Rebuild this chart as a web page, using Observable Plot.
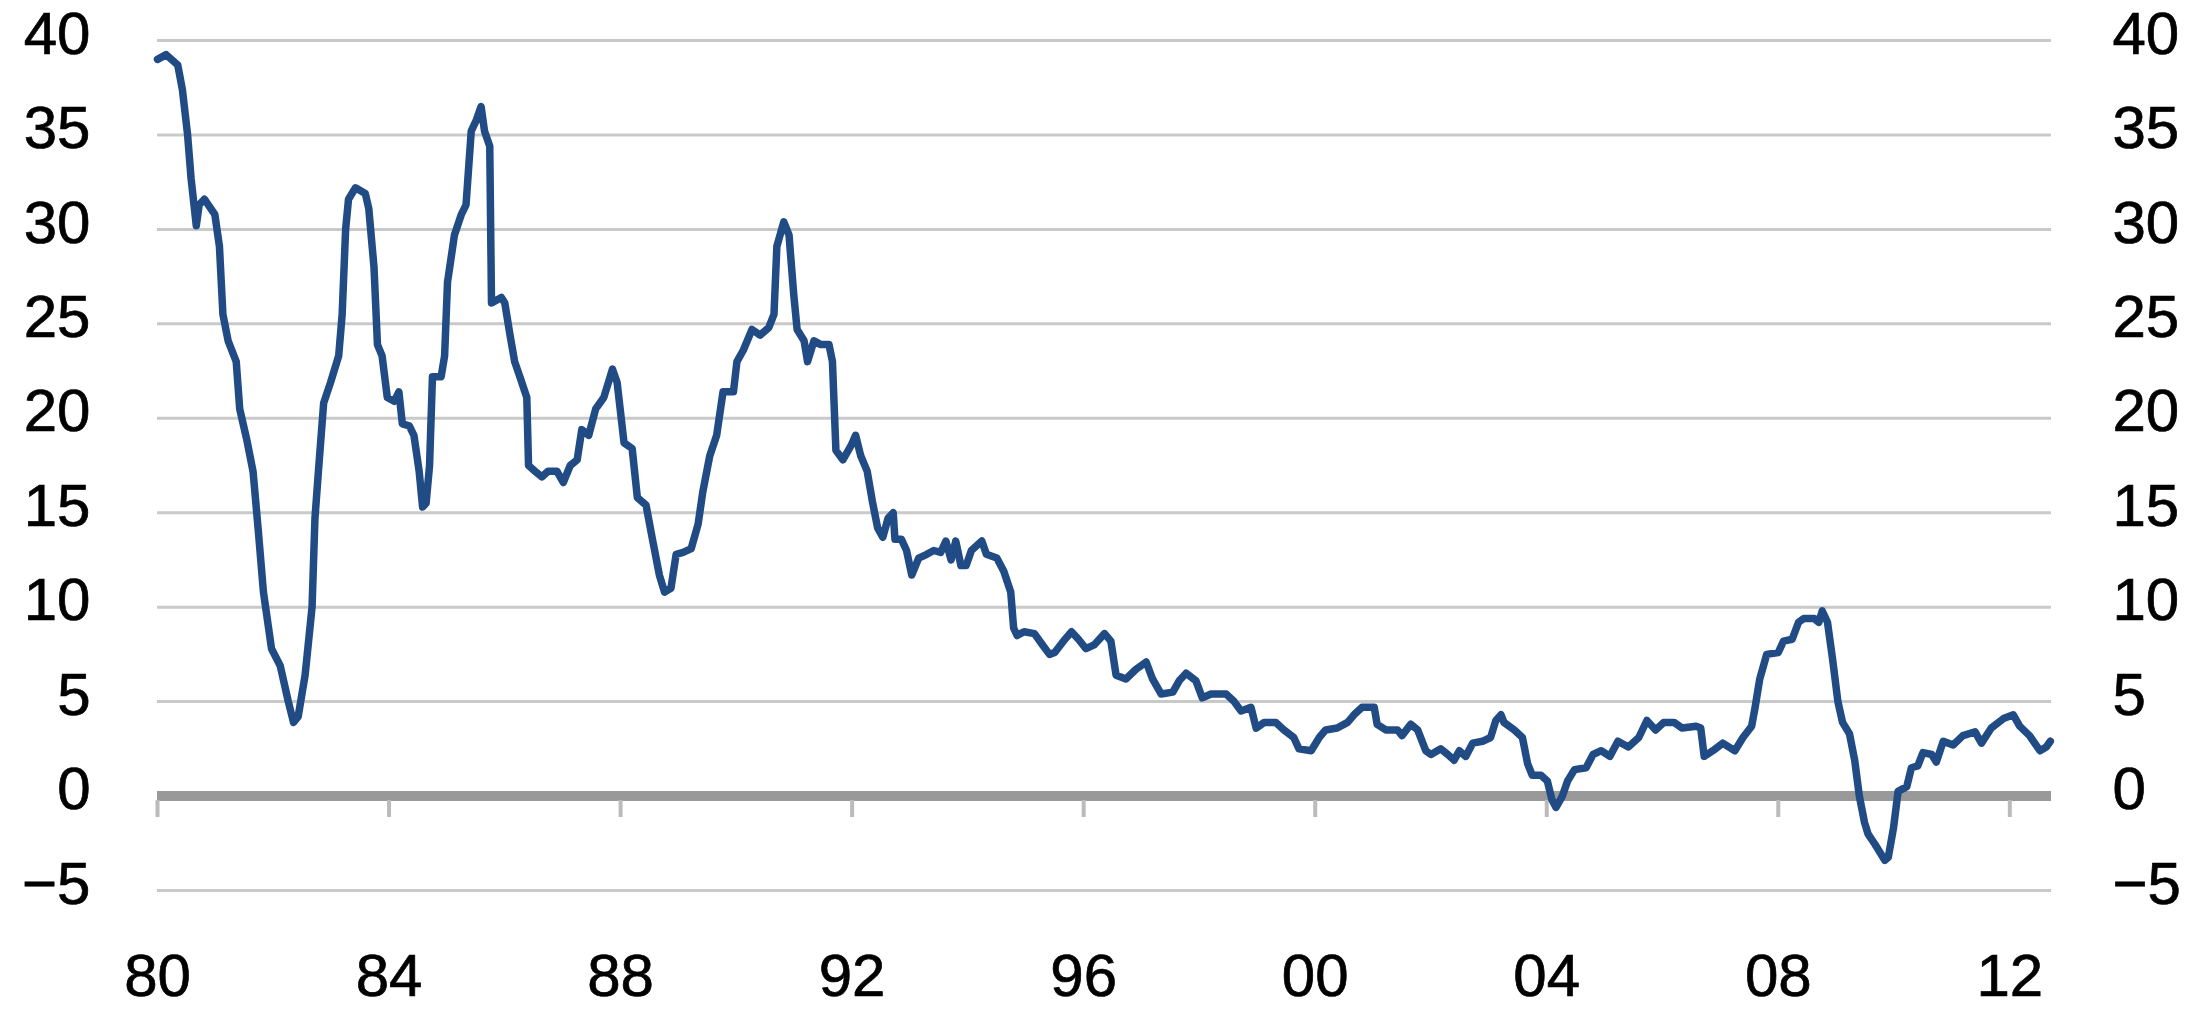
<!DOCTYPE html>
<html><head><meta charset="utf-8">
<script src="https://cdn.jsdelivr.net/npm/d3@7"></script>
<script src="https://cdn.jsdelivr.net/npm/@observablehq/plot@0.6"></script>
<style>html,body{margin:0;padding:0;background:#fff;} svg{display:block;} svg text{stroke:#000;stroke-width:0.7px;}</style>
</head><body><div id="chart"></div>
<script>
// Decimal-year dates and values
const years = [
1980.00,1980.15,1980.35,1980.43,1980.52,1980.58,1980.67,1980.72,1980.81,1980.99,
1981.07,1981.13,1981.22,1981.36,1981.42,1981.54,1981.65,1981.74,1981.83,1981.97,
1982.12,1982.26,1982.35,1982.43,1982.55,1982.67,1982.72,1982.78,1982.87,1982.99,
1983.13,1983.19,1983.25,1983.30,1983.42,1983.59,1983.65,1983.74,1983.80,1983.88,1983.97,
1984.09,1984.17,1984.23,1984.35,1984.43,1984.52,1984.58,1984.64,1984.70,1984.75,1984.90,1984.96,
1985.01,1985.13,1985.25,1985.33,1985.42,1985.51,1985.59,1985.65,1985.74,1985.77,1985.94,
1986.00,1986.09,1986.17,1986.26,1986.38,1986.41,1986.52,1986.64,1986.75,1986.90,
1987.01,1987.13,1987.25,1987.33,1987.45,1987.57,1987.71,1987.86,1987.94,
1988.06,1988.20,1988.29,1988.44,1988.55,1988.67,1988.76,1988.87,1988.96,
1989.08,1989.22,1989.34,1989.42,1989.54,1989.66,1989.77,1989.95,
1990.01,1990.12,1990.27,1990.41,1990.56,1990.65,1990.70,1990.82,1990.91,1990.99,
1991.05,1991.17,1991.23,1991.34,1991.46,1991.60,1991.66,1991.72,1991.84,1991.99,
1992.06,1992.15,1992.26,1992.35,1992.44,1992.53,1992.62,1992.71,1992.74,1992.85,1992.94,
1993.03,1993.15,1993.29,1993.41,1993.53,1993.62,1993.71,1993.79,1993.88,1993.97,
1994.06,1994.24,1994.32,1994.50,1994.62,1994.74,1994.79,1994.85,1994.97,
1995.15,1995.29,1995.41,1995.50,1995.65,1995.79,1995.91,
1996.04,1996.18,1996.36,1996.47,1996.56,1996.73,1996.90,
1997.08,1997.19,1997.34,1997.54,1997.65,1997.77,1997.94,
1998.05,1998.20,1998.46,1998.60,1998.72,1998.89,1998.98,
1999.12,1999.32,1999.46,1999.63,1999.72,1999.93,
2000.07,2000.18,2000.38,2000.56,2000.67,2000.81,
2001.02,2001.07,2001.22,2001.42,2001.50,2001.65,2001.77,2001.91,
2002.00,2002.17,2002.29,2002.40,2002.49,2002.60,2002.72,2002.89,
2003.03,2003.12,2003.21,2003.26,2003.44,2003.58,2003.67,2003.75,2003.90,
2004.01,2004.09,2004.16,2004.27,2004.36,2004.48,2004.68,2004.80,2004.94,
2005.09,2005.23,2005.41,2005.59,2005.73,2005.88,
2006.02,2006.20,2006.34,2006.58,2006.66,2006.72,2006.87,
2007.04,2007.25,2007.39,2007.54,2007.60,2007.68,2007.80,
2008.00,2008.09,2008.24,2008.35,2008.44,2008.62,2008.70,2008.76,2008.85,2008.94,
2009.03,2009.11,2009.23,2009.32,2009.40,2009.49,2009.55,2009.67,2009.84,2009.90,2009.99,
2010.07,2010.22,2010.30,2010.41,2010.50,2010.65,2010.73,2010.85,
2011.02,2011.19,2011.40,2011.51,2011.68,2011.89,
2012.06,2012.17,2012.34,2012.52,2012.63,2012.70
];
const values = [
39.0,39.25,38.7,37.4,35.0,32.7,30.2,31.3,31.6,30.8,
29.1,25.5,24.1,23.0,20.5,18.9,17.2,14.1,10.8,7.8,
6.9,5.0,3.9,4.2,6.4,10.0,14.7,17.2,20.8,21.9,
23.3,25.5,30.0,31.6,32.2,31.9,31.1,28.0,23.9,23.3,21.1,
20.9,21.4,19.7,19.6,19.1,17.2,15.3,15.5,17.5,22.2,22.2,23.3,
27.2,29.7,30.8,31.3,35.2,35.8,36.5,35.2,34.4,26.1,26.4,
26.1,24.4,23.0,22.2,21.1,17.5,17.2,16.9,17.2,17.2,
16.6,17.5,17.8,19.4,19.1,20.5,21.1,22.6,21.9,
18.7,18.4,15.8,15.4,13.6,11.7,10.8,11.0,12.8,
12.9,13.1,14.4,16.1,18.0,19.1,21.4,21.4,
23.0,23.6,24.7,24.4,24.8,25.5,29.1,30.4,29.7,26.6,
24.7,24.1,23.0,24.1,23.9,23.9,23.0,18.3,17.8,18.6,
19.1,18.0,17.2,15.6,14.2,13.7,14.7,15.0,13.6,13.6,13.0,
11.7,12.6,12.8,13.0,12.9,13.5,12.5,13.5,12.2,12.2,
13.0,13.5,12.8,12.6,11.9,10.8,8.9,8.5,8.7,
8.6,8.0,7.5,7.6,8.2,8.7,8.3,
7.8,8.0,8.6,8.2,6.4,6.2,6.7,
7.1,6.2,5.4,5.5,6.1,6.5,6.1,
5.2,5.4,5.4,5.0,4.5,4.7,3.6,
3.9,3.9,3.5,3.1,2.5,2.4,
3.1,3.5,3.6,3.9,4.3,4.7,
4.7,3.8,3.5,3.5,3.2,3.8,3.5,2.4,
2.2,2.5,2.2,1.9,2.4,2.1,2.8,2.9,
3.1,4.0,4.3,3.9,3.5,3.1,1.7,1.1,1.1,
0.8,-0.2,-0.6,0.0,0.8,1.4,1.5,2.2,2.4,
2.1,2.9,2.6,3.1,4.0,3.5,
3.9,3.9,3.6,3.7,3.6,2.1,2.4,
2.8,2.4,3.1,3.7,4.7,6.2,7.5,
7.6,8.2,8.3,9.2,9.4,9.4,9.2,9.8,9.2,7.2,
5.0,3.9,3.3,1.9,0.0,-1.4,-2.0,-2.55,-3.4,-3.25,-1.7,
0.25,0.5,1.5,1.6,2.3,2.2,1.8,2.9,
2.7,3.2,3.4,2.8,3.6,4.1,
4.3,3.7,3.2,2.4,2.6,2.9
];
const yTicks = [-5, 0, 5, 10, 15, 20, 25, 30, 35, 40];
const xTicks = [1980, 1984, 1988, 1992, 1996, 2000, 2004, 2008, 2012];
const xTickLabels = ["80", "84", "88", "92", "96", "00", "04", "08", "12"];

const data = years.map((t, i) => ({t, v: values[i]}));
const yFmt = d => d < 0 ? "\u2212" + Math.abs(d) : String(d);
const FONT = 60;

const chart = Plot.plot({
  width: 2203,
  height: 1009,
  marginLeft: 157,
  marginRight: 152,
  marginTop: 40,
  marginBottom: 119,
  x: {domain: [1980, 2012.72], label: null},
  y: {domain: [-5, 40], label: null},
  style: {fontFamily: "'Liberation Sans', Arial, sans-serif", fontSize: FONT + "px", color: "#000", background: "#fff", overflow: "visible"},
  marks: [
    Plot.ruleY(yTicks.filter(d => d !== 0), {stroke: "#c9c9c9", strokeWidth: 3}),
    Plot.ruleY([0], {stroke: "#999999", strokeWidth: 10}),
    Plot.axisX({ticks: xTicks, tickSize: 17, tickFormat: () => "", stroke: "#bbbbbb", strokeWidth: 4, dy: -90, label: null}),
    Plot.axisX({ticks: xTicks, tickSize: 0, tickPadding: 63, tickFormat: d => xTickLabels[xTicks.indexOf(d)], fontSize: FONT, fill: "#000", label: null}),
    Plot.axisY({ticks: yTicks, anchor: "left", tickSize: 0, tickPadding: 67, dy: -6, tickFormat: yFmt, fontSize: FONT, fill: "#000", label: null}),
    Plot.axisY({ticks: yTicks, anchor: "right", tickSize: 0, tickPadding: 61, dy: -6, tickFormat: yFmt, fontSize: FONT, fill: "#000", label: null}),
    Plot.line(data, {x: "t", y: "v", stroke: "#204b84", strokeWidth: 7.5, strokeLinejoin: "round"})
  ]
});
document.getElementById("chart").appendChild(chart);
</script>
</body></html>
